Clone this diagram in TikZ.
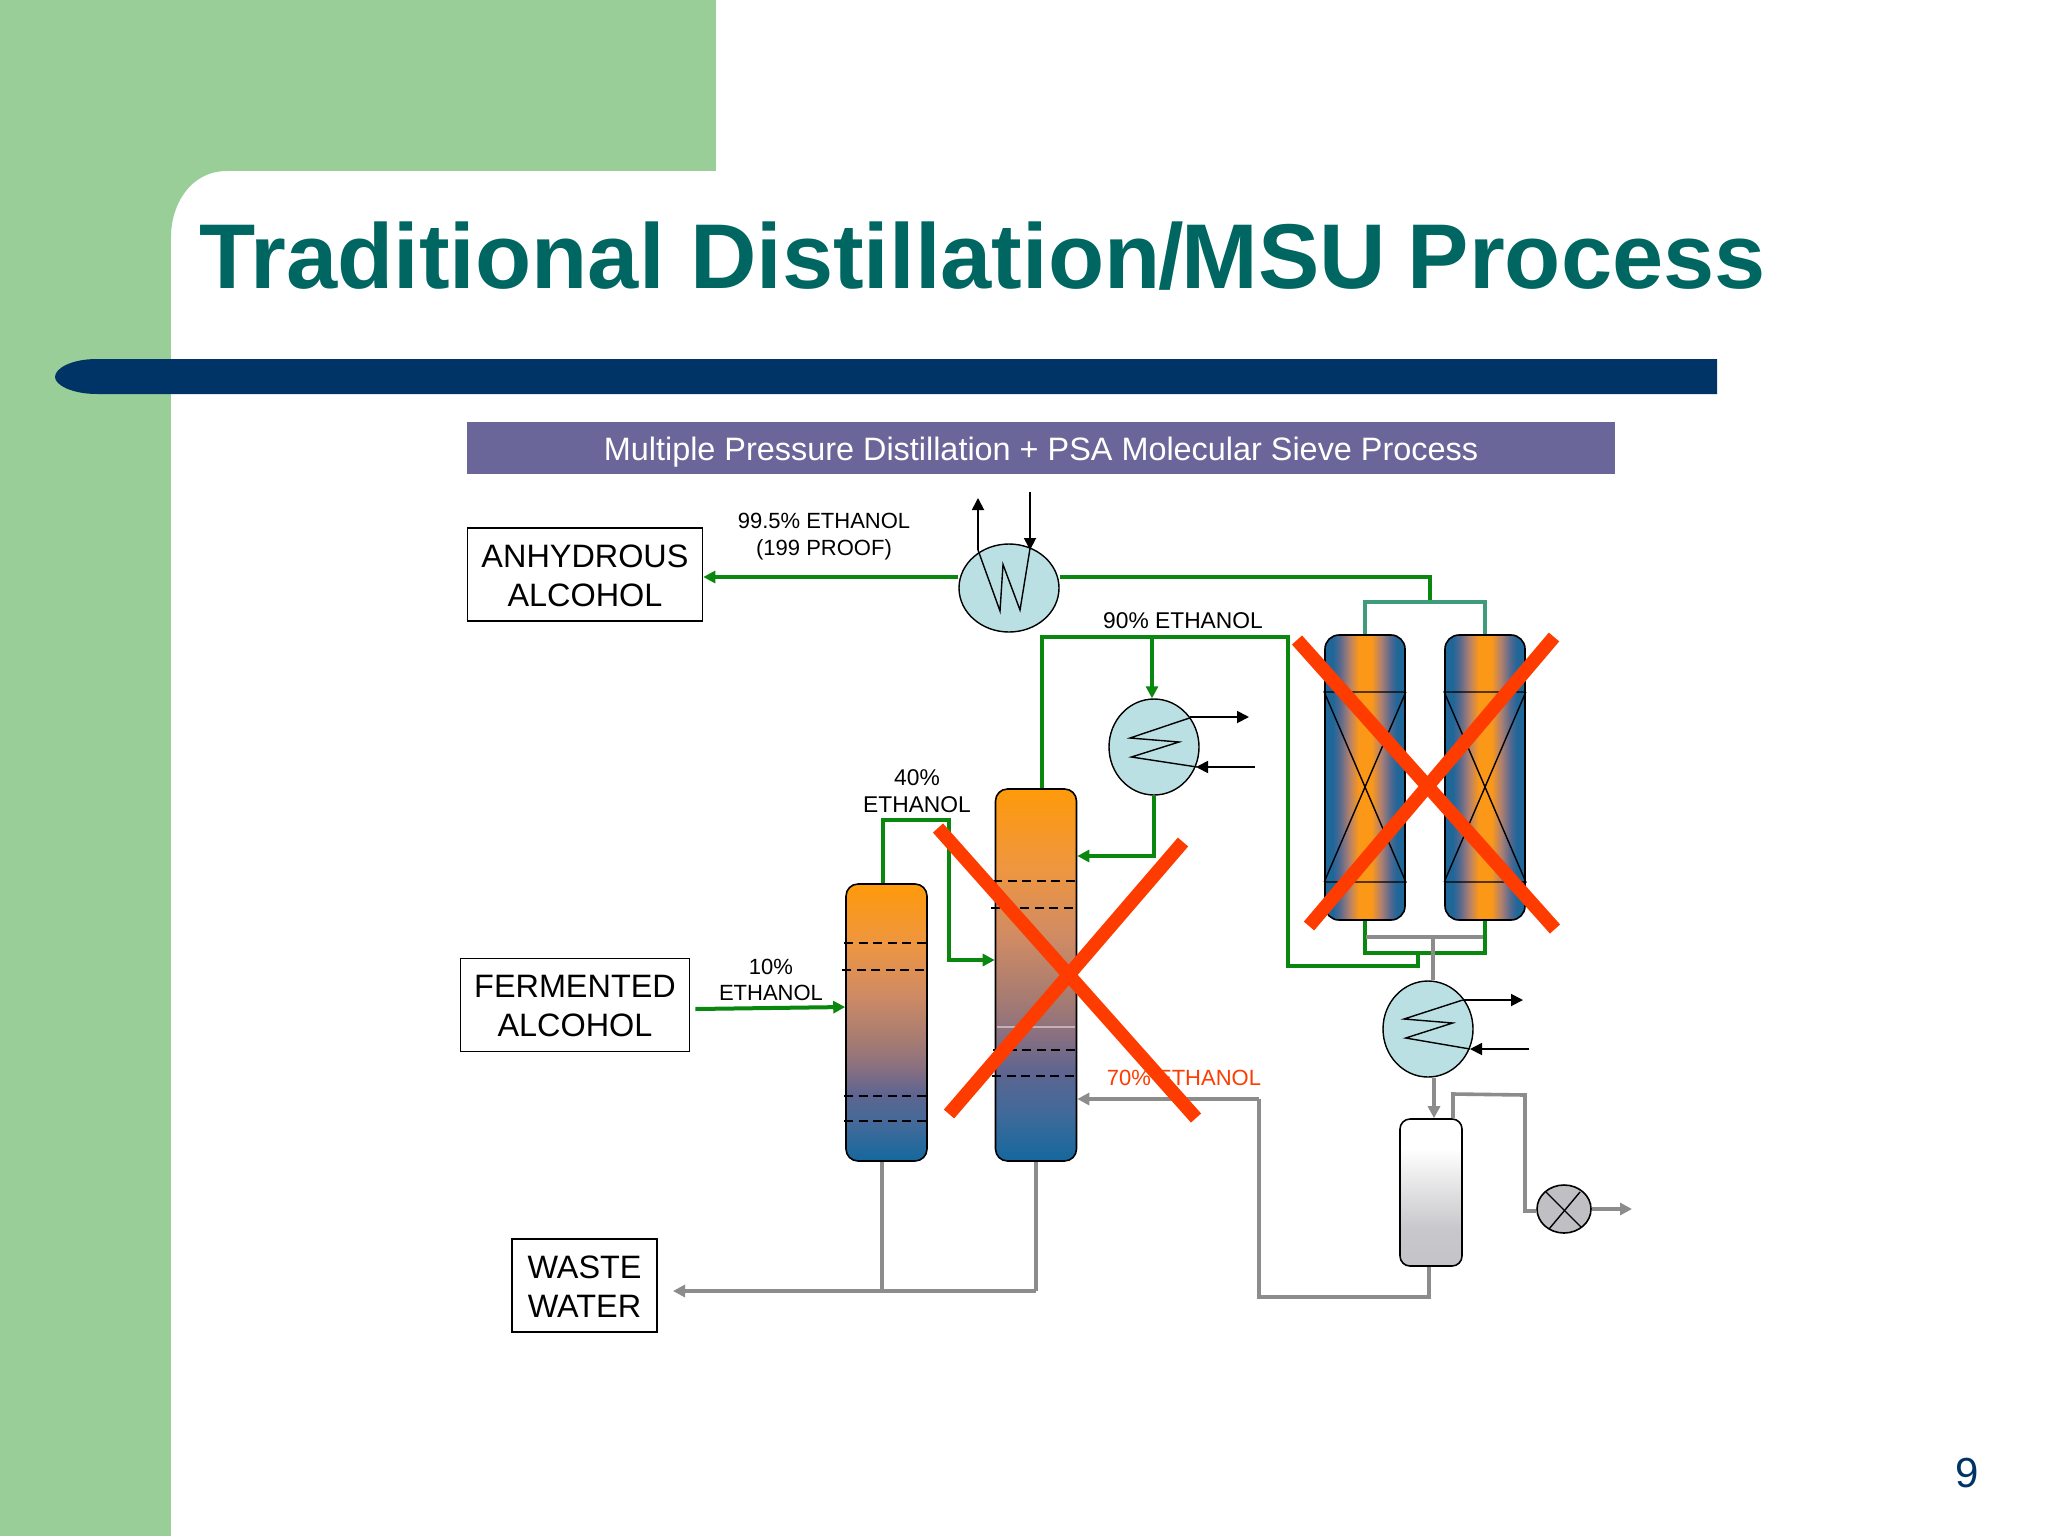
\documentclass[tikz,border=0pt]{standalone}
\usepackage{fontspec}
\setmainfont{Liberation Sans}
\usetikzlibrary{arrows.meta,shapes.geometric}
\definecolor{bgreen}{RGB}{154,206,153}
\definecolor{titleteal}{RGB}{0,102,97}
\definecolor{navybar}{RGB}{0,51,102}
\definecolor{banner}{RGB}{107,102,153}
\definecolor{flowgreen}{RGB}{10,135,15}
\definecolor{flowteal}{RGB}{62,156,122}
\definecolor{flowgray}{RGB}{140,140,140}
\definecolor{crossred}{RGB}{255,60,0}
\definecolor{hxfill}{RGB}{186,224,227}
\definecolor{blowfill}{RGB}{192,192,196}
\definecolor{ca}{RGB}{255,154,10}
\definecolor{cb}{RGB}{238,150,64}
\definecolor{cc}{RGB}{208,139,100}
\definecolor{cd}{RGB}{163,122,115}
\definecolor{ce}{RGB}{138,112,128}
\definecolor{cf}{RGB}{95,101,144}
\definecolor{cg}{RGB}{62,106,154}
\definecolor{ch}{RGB}{20,104,158}
\definecolor{ta}{RGB}{31,102,153}
\definecolor{tb}{RGB}{82,104,143}
\definecolor{tc}{RGB}{176,128,112}
\definecolor{td}{RGB}{252,152,24}
\definecolor{sb}{RGB}{224,224,226}
\definecolor{sc}{RGB}{200,200,204}
\definecolor{sd}{RGB}{196,196,200}
\pgfdeclareverticalshading{colgrad}{100bp}{color(0bp)=(ch);color(25bp)=(ch);color(31.1bp)=(cg);color(37.2bp)=(cf);color(42bp)=(ce);color(46.2bp)=(cd);color(55.2bp)=(cc);color(64.3bp)=(cb);color(75bp)=(ca);color(100bp)=(ca)}
\pgfdeclarehorizontalshading{towgrad}{100bp}{color(0bp)=(ta);color(25bp)=(ta);color(30bp)=(ta);color(34bp)=(tb);color(40bp)=(tc);color(46bp)=(td);color(54bp)=(td);color(60bp)=(tc);color(66bp)=(tb);color(70bp)=(ta);color(75bp)=(ta);color(100bp)=(ta)}
\pgfdeclareverticalshading{sepgrad}{100bp}{color(0bp)=(sd);color(25bp)=(sd);color(37.5bp)=(sc);color(50bp)=(sb);color(65bp)=(white);color(100bp)=(white)}
\newcommand{\lowered}[2]{\raisebox{-#1}[\height][\depth]{#2}}
\tikzset{
  x=0.5pt,y=-0.5pt,
  greenflow/.style={draw=flowgreen,line width=2pt,line join=miter},
  tealflow/.style={draw=flowteal,line width=1.9pt},
  grayflow/.style={draw=flowgray,line width=1.8pt,line join=miter},
  gtip/.style={-{Triangle[length=6pt,width=6pt]}},
  btip/.style={-{Triangle[length=6pt,width=6pt]}},
  blackflow/.style={draw=black,line width=0.9pt},
  boxtext/.style={draw=black,line width=0.8pt,fill=white,inner sep=0pt,align=center,font=\fontsize{16.2}{19.5}\selectfont},
  lbl/.style={inner sep=0pt,align=center,font=\fontsize{11}{13.2}\selectfont},
  lblb/.style={inner sep=0pt,align=center,font=\fontsize{11.4}{13.2}\selectfont},
  column/.style={draw=black,line width=0.8pt,rounded corners=6pt,shade,shading=colgrad,inner sep=0pt,minimum width=40.5pt},
  tower/.style={draw=black,line width=0.8pt,rounded corners=7pt,shade,shading=towgrad,inner sep=0pt,minimum width=40pt,minimum height=142.5pt},
  hx/.style={draw=black,line width=0.7pt,fill=hxfill,ellipse,inner sep=0pt},
  tray/.style={draw=black,line width=0.8pt,dash pattern=on 4.5pt off 2.8pt},
  thinline/.style={draw=black,line width=0.7pt},
  redx/.style={draw=crossred,line width=6.8pt},
}
\begin{document}
\begin{tikzpicture}
\useasboundingbox (0,0) rectangle (2048,1536);
\fill[white] (0,0) rectangle (2048,1536);
\fill[bgreen] (0,0) rectangle (716,171);
\fill[bgreen] (0,0) rectangle (171,1536);
\fill[bgreen] (171,237) .. controls (171,205) and (190,171) .. (227,171) -- (171,171) -- cycle;
\fill[navybar] (97,359) .. controls (72,359) and (55,368) .. (55,377) .. controls (55,385) and (72,394) .. (97,394) -- (1717,394) -- (1717,359) -- cycle;
\node[anchor=base west,inner sep=0pt,text=titleteal,font=\fontsize{46}{50}\bfseries\selectfont] (title) at (199,288) {Traditional Distillation\kern-1pt/\kern-1.2ptMSU\kern-2pt{} Process};
\node[fill=banner,text=white,inner sep=0pt,minimum width=574pt,minimum height=26pt,font=\fontsize{16.2}{20}\selectfont] (bann) at (1041,448) {\lowered{2pt}{Multiple Pressure Distillation + PSA Molecular Sieve Process}};
\node[inner sep=0pt,text=navybar,font=\fontsize{21}{24}\selectfont] (pg) at (1967,1473) {9};

% equipment
\node[boxtext,minimum width=117.5pt,minimum height=46.5pt] (anhy) at (585,574.5) {\lowered{.7pt}{ANHYDROUS}\\\lowered{.7pt}{ALCOHOL}};
\node[boxtext,minimum width=114.5pt,minimum height=46.5pt] (ferm) at (575,1005) {\lowered{.7pt}{FERMENTED}\\\lowered{.7pt}{ALCOHOL}};
\node[boxtext,minimum width=72.5pt,minimum height=46.5pt] (waste) at (584.5,1285.5) {\lowered{.7pt}{WASTE}\\\lowered{.7pt}{WATER}};

\node[column,minimum height=138.5pt] (col1) at (886.5,1022.5) {};
\node[column,minimum height=186pt] (col2) at (1036,975) {};
\node[tower] (towL) at (1365,777.5) {};
\node[tower] (towR) at (1485,777.5) {};
\node[draw=black,line width=0.8pt,rounded corners=5pt,shade,shading=sepgrad,inner sep=0pt,minimum width=31pt,minimum height=73.5pt] (sep) at (1431,1192.5) {};
\node[hx,minimum width=50pt,minimum height=44pt] (hxa) at (1009,588) {};
\node[hx,minimum width=45pt,minimum height=48pt] (hxb) at (1154,747) {};
\node[hx,minimum width=45pt,minimum height=48pt] (hxc) at (1428,1029) {};
\node[draw=black,line width=0.8pt,fill=blowfill,ellipse,inner sep=0pt,minimum width=27pt,minimum height=24pt] (blow) at (1564,1209) {};

% tower internals
\draw[thinline] (towL.east |- 0,692) -- (towL.west |- 0,692) -- (towL.east |- 0,882) -- (towL.west |- 0,882);
\draw[thinline] (towL.west |- 0,882) -- (towL.east |- 0,692);
\draw[thinline] (towR.east |- 0,692) -- (towR.west |- 0,692) -- (towR.east |- 0,882) -- (towR.west |- 0,882);
\draw[thinline] (towR.west |- 0,882) -- (towR.east |- 0,692);

% trays
\draw[tray] (844,943) -- (928,943);
\draw[tray] (842,970) -- (927,970);
\draw[tray] (844,1096) -- (928,1096);
\draw[tray] (844,1121) -- (928,1121);
\draw[tray] (993,881) -- (1076,881);
\draw[tray] (991,908) -- (1076,908);
\draw[tray] (993,1050) -- (1076,1050);
\draw[tray] (992,1076) -- (1076,1076);
\draw[draw=white,opacity=.45,line width=0.6pt] (997,1027) -- (1075,1027);

% green flows
\draw[greenflow,gtip] (hxa.west |- 0,577) -- (anhy.east |- 0,577);
\draw[greenflow] (hxa.east |- 0,577) -- (1430,577) -- (1430,602);
\draw[tealflow] (towL.north) -- (towL.north |- 0,602) -- (towR.north |- 0,602) -- (towR.north);
\draw[greenflow] (towL.south) -- (towL.south |- 0,953) -- (towR.south |- 0,953) -- (towR.south);
\draw[greenflow] (1042,0 |- col2.north) -- (1042,637) -- (1288,637) -- (1288,966) -- (1418,966) -- (1418,953);
\draw[greenflow,gtip] (1152,637) -- (1152,0 |- hxb.north);
\draw[greenflow,gtip] (hxb.south) -- (hxb.south |- 0,856) -- (col2.east |- 0,856);
\draw[greenflow,gtip] (883,0 |- col1.north) -- (883,820) -- (949,820) -- (949,960) -- (col2.west |- 0,960);
\draw[greenflow,gtip] (ferm.east |- 0,1009) ++(5,0) -- (col1.west |- 0,1007);

% gray flows
\draw[grayflow] (towL.east |- 0,937) ++(-40,0) -- (1483,937);
\draw[grayflow] (1433,937) -- (1433,0 |- hxc.north);
\draw[grayflow,gtip] (1434,0 |- hxc.south) -- (1434,0 |- sep.north);
\draw[grayflow] (1453,0 |- sep.north) -- (1453,1094) -- (1525,1095) -- (1525,1211) -- (blow.west |- 0,1211);
\draw[grayflow,gtip] (blow.east) -- (1632,1209);
\draw[grayflow] (1429,0 |- sep.south) -- (1429,1297) -- (1259,1297) -- (1259,1099);
\draw[grayflow,gtip] (1259,1099) -- (col2.east |- 0,1099);
\draw[grayflow] (882,0 |- col1.south) -- (882,1291);
\draw[grayflow] (1036,0 |- col2.south) -- (1036,1291);
\draw[grayflow,gtip] (1036,1291) -- (673,1291);

% coils and utility arrows
\draw[thinline] (978,550) -- (1000,611) -- (1003,564.5) -- (1020,610) -- (1030,548.5);
\coordinate (a1) at (978,498); \coordinate (a2) at (1030,492);
\draw[blackflow,btip] (978,550) -- (a1);
\draw[blackflow,btip] (a2) -- (1030,550);
\draw[thinline] (1189.5,718) -- (1130,738) -- (1179,742) -- (1131.4,757) -- (1197,767);
\coordinate (b1) at (1249,717); \coordinate (b2) at (1255,767);
\draw[blackflow,btip] (1189.5,717) -- (b1);
\draw[blackflow,btip] (b2) -- (1196,767);
\draw[thinline] (1462.7,1000) -- (1404,1019) -- (1452.7,1023) -- (1405.7,1038) -- (1470,1049);
\coordinate (c1) at (1523,1000); \coordinate (c2) at (1529,1049);
\draw[blackflow,btip] (1462.7,1000) -- (c1);
\draw[blackflow,btip] (c2) -- (1470,1049);
\draw[thinline] (1546,1192) -- (1581,1227);
\draw[thinline] (1580,1192) -- (1549,1229);

% labels
\node[lbl] (t995) at (824,536.5) {99.5\% ETHANOL\\(199 PROOF)};
\node[lblb] (t90) at (1183,620.7) {90\% ETHANOL};
\node[lblb] (t40) at (917,791) {40\%\\ETHANOL};
\node[lbl] (t10) at (771,980) {10\%\\ETHANOL};
\node[lbl,text=crossred] (t70) at (1184,1078) {70\% ETHANOL};

% red crosses
\coordinate (x1a) at (1297,640); \coordinate (x1b) at (1555,929);
\coordinate (x2a) at (1554,637); \coordinate (x2b) at (1309,926);
\coordinate (x3a) at (938,828); \coordinate (x3b) at (1196,1118);
\coordinate (x4a) at (1183,842); \coordinate (x4b) at (949,1114);
\draw[redx] (x1a) -- (x1b);
\draw[redx] (x2a) -- (x2b);
\draw[redx] (x3a) -- (x3b);
\draw[redx] (x4a) -- (x4b);
\end{tikzpicture}
\end{document}
